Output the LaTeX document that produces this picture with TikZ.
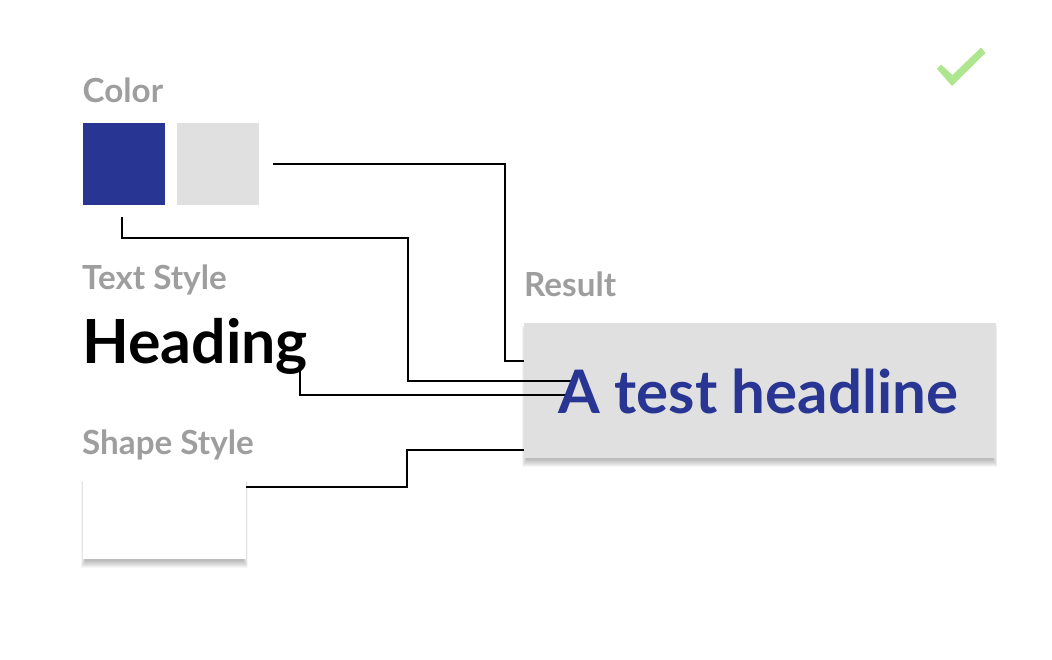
\documentclass[tikz,border=0pt]{standalone}
\usepackage{fontspec}
\setmainfont{Lato}
\usetikzlibrary{calc}
\definecolor{navy}{HTML}{283593}
\definecolor{swatchgray}{HTML}{E0E0E0}
\definecolor{labelgray}{HTML}{9E9E9E}
\definecolor{checkgreen}{HTML}{AEE68F}
\tikzset{
  label text/.style={anchor=base west,inner sep=0pt,text=labelgray,font=\fontsize{33.2}{36}\selectfont\bfseries},
  swatch/.style={anchor=north west,inner sep=0pt,outer sep=0pt,minimum width=82pt,minimum height=82pt},
  panel/.style={anchor=north west,inner sep=0pt,outer sep=0pt},
  wire/.style={draw=black,line width=1.4pt,line join=miter,line cap=butt},
}
\newcommand{\softshadow}[4]{%
  \foreach \i in {0,1,...,7}{
    \fill[black,opacity=0.034]
      ($(#1,#2)+(-1.8+0.6*\i,3+0.6*\i)$) rectangle ($(#3,#4)+(1.8-0.6*\i,8.5-0.9*\i)$);
  }%
}
\begin{document}
\begin{tikzpicture}[x=1pt,y=-1pt]
\useasboundingbox (0,0) rectangle (1052,659);
\fill[white] (0,0) rectangle (1052,659);
% shadows
\softshadow{524}{323}{995.5}{458}
\softshadow{83}{478}{246}{559}
% shapes
\node[swatch,fill=navy] (blue) at (82.5,123) {};
\node[swatch,fill=swatchgray] (gray) at (177,123) {};
\node[panel,fill=swatchgray,minimum width=471.5pt,minimum height=135pt] (result) at (524,323) {};
\node[panel,fill=white,minimum width=163.5pt,minimum height=81pt] (shape) at (82.5,478) {};
% labels
\node[label text] (color) at (82.5,102) {Color};
\node[label text] (textstyle) at (82,289.5) {Text Style};
\node[label text] (shapestyle) at (82,454.5) {Shape Style};
\node[label text] (resultlabel) at (524,296) {Result};
\node[anchor=base west,inner sep=0pt,text=black,font=\fontsize{60.8}{64}\selectfont\bfseries] (heading) at (82,363) {Heading};
% connector ends
\coordinate (g0) at (273,164);
\coordinate (g1) at (524,361);
\coordinate (b0) at (122,217);
\coordinate (b1) at (571,381);
\coordinate (h0) at (300,370);
\coordinate (h1) at (566,395);
\coordinate (s1) at (524,450);
\coordinate (s0) at (shape.east |- 0,487);
\draw[wire] (g0) -- (505,164) -- (505,361) -- (g1);
\draw[wire] (b0) -- (122,238) -- (408,238) -- (408,381) -- (b1);
\draw[wire] (h0) -- (300,395) -- (h1);
\draw[wire] (s0) -- (407,487) -- (407,450) -- (s1);
% result text
\node[anchor=base west,inner sep=0pt,text=navy,font=\fontsize{60}{64}\selectfont\bfseries] (headline) at (558,413) {A test headline};
% check mark
\fill[checkgreen] (937,69) -- (941,64.5) -- (952.5,75) -- (981,47.5) -- (985.5,53) -- (952,86) -- cycle;
\end{tikzpicture}
\end{document}
